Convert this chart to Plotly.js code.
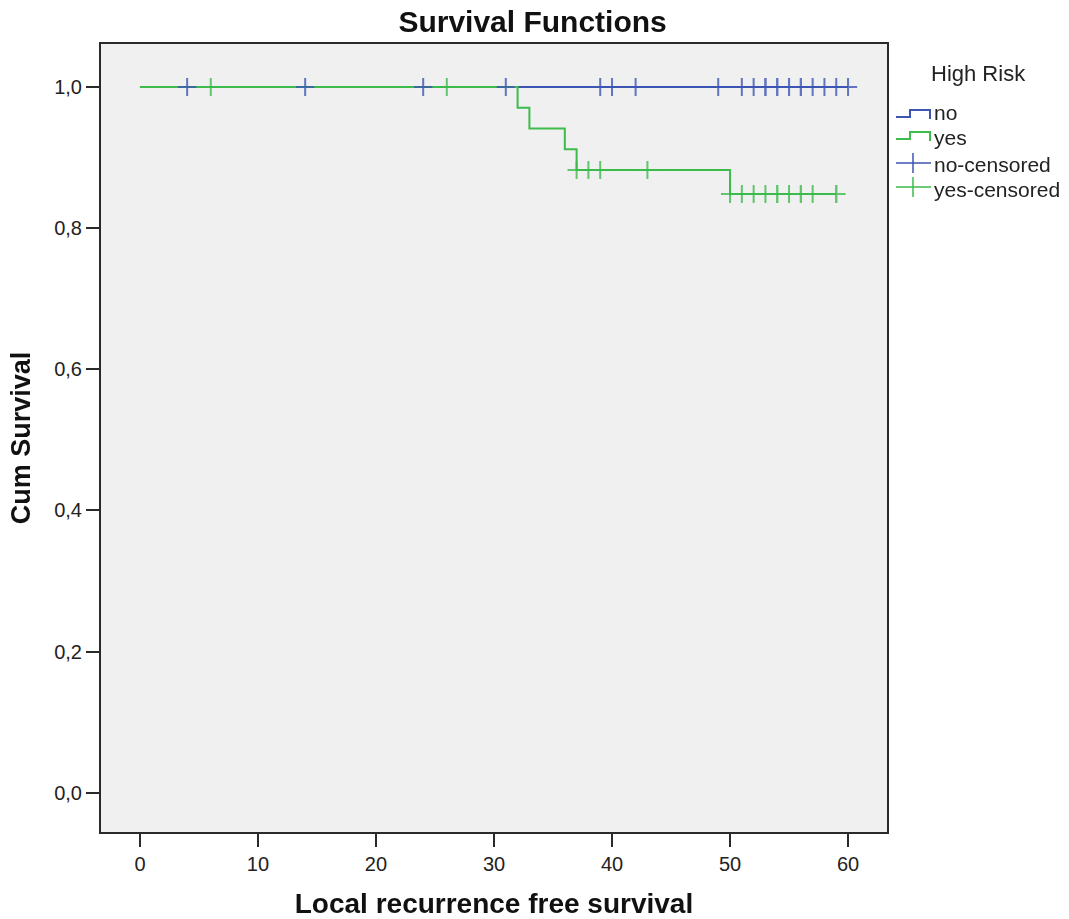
<!DOCTYPE html>
<html>
<head>
<meta charset="utf-8">
<script src="https://cdn.plot.ly/plotly-3.0.1.min.js"></script>
<style>
  html, body { margin: 0; padding: 0; background: #ffffff; }
  #chart { width: 1069px; height: 919px; }
</style>
</head>
<body>
<div id="chart"></div>
<script>
// Kaplan-Meier estimates by group (High Risk: no / yes)
const groupNames = ["no", "yes"];
const censoredNames = ["no-censored", "yes-censored"];

// step function: event times and survival after each time
const stepTimesNo = [0, 60];
const survNo = [1.0, 1.0];
const stepTimesYes = [0, 32, 33, 36, 37, 50, 59];
const survYes = [1.0, 0.9706, 0.9412, 0.9118, 0.8824, 0.8484, 0.8484];

// censored observation times (repeats are ties)
const censTimesNo = [4, 14, 24, 31, 39, 40, 42, 49, 51, 52, 53, 53, 54, 54, 55, 55, 56, 56, 57, 58, 59, 60];
const censTimesYes = [6, 26, 37, 38, 39, 43, 50, 51, 52, 53, 54, 54, 55, 56, 56, 57, 59, 59];

const xTicks = [0, 10, 20, 30, 40, 50, 60];
const yTicks = [0, 0.2, 0.4, 0.6, 0.8, 1.0];

const blue = "#3d56b3";
const green = "#3dbb4b";

// survival level in effect at time t
function levelAt(times, surv, t) {
  let v = surv[0];
  for (let i = 0; i < times.length; i++) if (times[i] <= t) v = surv[i];
  return v;
}

const FONT = "Liberation Sans, Arial, sans-serif";

const traces = [
  { x: stepTimesNo, y: survNo, name: groupNames[0], mode: "lines",
    line: { shape: "hv", color: blue, width: 2 }, showlegend: false, hoverinfo: "skip" },
  { x: stepTimesYes, y: survYes, name: groupNames[1], mode: "lines",
    line: { shape: "hv", color: green, width: 2 }, showlegend: false, hoverinfo: "skip" },
  { x: censTimesNo, y: censTimesNo.map(t => levelAt(stepTimesNo, survNo, t)),
    name: censoredNames[0], mode: "markers", opacity: 0.8,
    marker: { symbol: "cross-thin", size: 13, line: { color: blue, width: 2 } },
    showlegend: false, hoverinfo: "skip" },
  { x: censTimesYes, y: censTimesYes.map(t => levelAt(stepTimesYes, survYes, t)),
    name: censoredNames[1], mode: "markers", opacity: 0.8,
    marker: { symbol: "cross-thin", size: 13, line: { color: green, width: 2 } },
    showlegend: false, hoverinfo: "skip" }
];

// plot area in pixels, used to place the hand-built legend
const W = 1069, H = 919;
const M = { l: 101, r: 182, t: 44, b: 87 };
const PW = W - M.l - M.r, PH = H - M.t - M.b;
const px = x => (x - M.l) / PW;
const py = y => (H - M.b - y) / PH;

function path(pts) {
  return pts.map((p, i) => (i ? "L" : "M") + px(p[0]) + "," + py(p[1])).join(" ");
}

const legendShapes = [
  { type: "path", xref: "paper", yref: "paper",
    path: path([[896, 117], [910, 117], [910, 110], [930, 110], [930, 119]]),
    line: { color: blue, width: 2 } },
  { type: "path", xref: "paper", yref: "paper",
    path: path([[896, 139], [910, 139], [910, 132], [930, 132], [930, 141]]),
    line: { color: green, width: 2 } },
  { type: "path", xref: "paper", yref: "paper",
    path: path([[896, 163], [931, 163]]), line: { color: blue, width: 2 }, opacity: 0.75 },
  { type: "path", xref: "paper", yref: "paper",
    path: path([[913, 153], [913, 173]]), line: { color: blue, width: 2 }, opacity: 0.75 },
  { type: "path", xref: "paper", yref: "paper",
    path: path([[896, 187], [931, 187]]), line: { color: green, width: 2 }, opacity: 0.75 },
  { type: "path", xref: "paper", yref: "paper",
    path: path([[913, 177], [913, 197]]), line: { color: green, width: 2 }, opacity: 0.75 }
];

const legendLabels = [groupNames[0], groupNames[1], censoredNames[0], censoredNames[1]];
const legendRows = [113, 138, 164, 190];
const legendAnnotations = legendLabels.map((txt, i) => ({
  text: txt, xref: "paper", yref: "paper", x: px(932), y: py(legendRows[i]),
  xanchor: "left", yanchor: "middle", showarrow: false,
  font: { family: FONT, size: 21, color: "#222" }
}));
legendAnnotations.push({
  text: "High Risk", xref: "paper", yref: "paper", x: px(978), y: py(73),
  xanchor: "center", yanchor: "middle", showarrow: false,
  font: { family: FONT, size: 22, color: "#222" }
});

const layout = {
  width: W, height: H,
  margin: M,
  paper_bgcolor: "#ffffff",
  plot_bgcolor: "#f0f0f0",
  separators: ",.",
  showlegend: false,
  title: {
    text: "Survival Functions",
    x: 587 / W, xanchor: "center", xref: "paper",
    y: 1 - 21 / H, yanchor: "middle", yref: "container",
    font: { family: FONT, size: 30, weight: "bold", color: "#111" }
  },
  xaxis: {
    range: [-3.3, 63.3], tickvals: xTicks, ticktext: xTicks.map(String),
    showgrid: false, zeroline: false,
    showline: true, mirror: true, linecolor: "#2a2a2a", linewidth: 2,
    ticks: "outside", ticklen: 13, tickwidth: 2, tickcolor: "#2a2a2a",
    tickfont: { family: FONT, size: 20, color: "#222" },
    title: { text: "Local recurrence free survival", standoff: 22,
      font: { family: FONT, size: 28, weight: "bold", color: "#111" } }
  },
  yaxis: {
    range: [-0.0555, 1.0609], tickvals: yTicks, tickformat: ".1f",
    showgrid: false, zeroline: false,
    showline: true, mirror: true, linecolor: "#2a2a2a", linewidth: 2,
    ticks: "outside", ticklen: 13, tickwidth: 2, tickcolor: "#2a2a2a",
    tickfont: { family: FONT, size: 20, color: "#222" },
    title: { text: "Cum Survival", standoff: 16,
      font: { family: FONT, size: 27, weight: "bold", color: "#111" } }
  },
  shapes: legendShapes,
  annotations: legendAnnotations
};

Plotly.newPlot("chart", traces, layout, { displayModeBar: false, staticPlot: true });
</script>
</body>
</html>
